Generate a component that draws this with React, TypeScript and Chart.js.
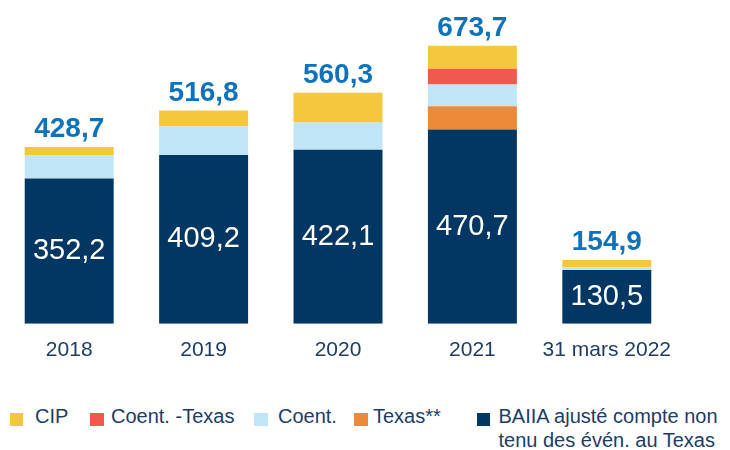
import React, { useEffect, useRef } from "react";
import { Chart, registerables } from "chart.js";

Chart.register(...registerables);

// ---- data ----
const categories = ["2018", "2019", "2020", "2021", "31 mars 2022"];
const baiia = [352.2, 409.2, 422.1, 470.7, 130.5];
const texas = [0, 0, 0, 56.6, 0];
const coent = [56.6, 69.0, 65.6, 52.7, 6.5];
const coentTexas = [0, 0, 0, 38.1, 0];
const cip = [19.9, 38.6, 72.6, 55.6, 17.9];

const baiiaLabelLines = ["BAIIA ajusté compte non", "tenu des évén. au Texas"];
const texasLabel = "Texas**";
const coentLabel = "Coent.";
const coentTexasLabel = "Coent. -Texas";
const cipLabel = "CIP";

// ---- styles ----
const FONT = "'Liberation Sans', Arial, Helvetica, sans-serif";
const NAVY = "#023763";
const ORANGE = "#EC8A3A";
const LIGHTBLUE = "#C0E5F7";
const RED = "#F05A4E";
const YELLOW = "#F4C73E";
const VALUE_BLUE = "#0F72BA";
const TEXT_NAVY = "#1d3c66";

const fmt = (v: number) => v.toFixed(1).replace(".", ",");

const totals = categories.map(
  (_, i) => baiia[i] + texas[i] + coent[i] + coentTexas[i] + cip[i]
);

const valueLabelsPlugin = {
  id: "valueLabels",
  afterDatasetsDraw(chart: any) {
    const ctx = chart.ctx as CanvasRenderingContext2D;
    ctx.save();
    // inner labels on base series
    const meta0 = chart.getDatasetMeta(0);
    meta0.data.forEach((bar: any, i: number) => {
      const p = bar.getProps(["x", "y", "base"], true);
      ctx.fillStyle = "#ffffff";
      ctx.font = `29px ${FONT}`;
      ctx.textAlign = "center";
      ctx.textBaseline = "middle";
      ctx.fillText(fmt(baiia[i]), p.x, (p.y + p.base) / 2);
    });
    // totals on top
    categories.forEach((_, i) => {
      let top = Infinity;
      let x = 0;
      chart.data.datasets.forEach((_ds: any, d: number) => {
        const el = chart.getDatasetMeta(d).data[i];
        if (!el) return;
        const p = el.getProps(["x", "y"], true);
        if (p.y < top) top = p.y;
        x = p.x;
      });
      ctx.fillStyle = VALUE_BLUE;
      ctx.font = `bold 28px ${FONT}`;
      ctx.textAlign = "center";
      ctx.textBaseline = "alphabetic";
      ctx.fillText(fmt(totals[i]), x, top - 10);
    });
    ctx.restore();
  },
};

const legendEntries = [
  { lines: [cipLabel], color: YELLOW, boxLeft: 9.5, textLeft: 35 },
  { lines: [coentTexasLabel], color: RED, boxLeft: 90, textLeft: 111 },
  { lines: [coentLabel], color: LIGHTBLUE, boxLeft: 254, textLeft: 278 },
  { lines: [texasLabel], color: ORANGE, boxLeft: 354, textLeft: 373 },
  { lines: baiiaLabelLines, color: NAVY, boxLeft: 476.5, textLeft: 498.5 },
];

export default function App() {
  const canvasRef = useRef<HTMLCanvasElement | null>(null);

  useEffect(() => {
    if (!canvasRef.current) return;
    const chart = new Chart(canvasRef.current, {
      type: "bar",
      data: {
        labels: categories,
        datasets: [
          { label: baiiaLabelLines.join(" "), data: baiia, backgroundColor: NAVY },
          { label: texasLabel, data: texas, backgroundColor: ORANGE },
          { label: coentLabel, data: coent, backgroundColor: LIGHTBLUE },
          { label: coentTexasLabel, data: coentTexas, backgroundColor: RED },
          { label: cipLabel, data: cip, backgroundColor: YELLOW },
        ],
      },
      options: {
        responsive: false,
        animation: false,
        layout: { padding: { top: 35, bottom: 13, left: 2, right: 56 } },
        datasets: {
          bar: { categoryPercentage: 1, barPercentage: 0.662, borderWidth: 0 },
        },
        plugins: {
          legend: { display: false },
          tooltip: { enabled: false },
        },
        scales: {
          x: {
            stacked: true,
            grid: { display: false, drawTicks: false },
            border: { display: false },
            ticks: {
              color: TEXT_NAVY,
              font: { family: FONT, size: 21 },
              padding: 14,
              maxRotation: 0,
              autoSkip: false,
            },
          },
          y: {
            stacked: true,
            display: false,
            min: 0,
            max: 700,
          },
        },
      },
      plugins: [valueLabelsPlugin],
    } as any);
    return () => chart.destroy();
  }, []);

  return (
    <div
      style={{
        position: "absolute",
        left: 0,
        top: 0,
        width: 730,
        height: 450,
        background: "#ffffff",
        fontFamily: FONT,
      }}
    >
      <canvas ref={canvasRef} width={730} height={390} style={{ display: "block", width: 730, height: 390 }} />
      {legendEntries.map((e, i) => (
        <React.Fragment key={i}>
          <div
            style={{
              position: "absolute",
              left: e.boxLeft,
              top: 412.5,
              width: 13.5,
              height: 13.5,
              background: e.color,
            }}
          />
          <div
            style={{
              position: "absolute",
              left: e.textLeft,
              top: 404.4,
              fontSize: 20,
              lineHeight: "24px",
              color: TEXT_NAVY,
              whiteSpace: "nowrap",
            }}
          >
            {e.lines.map((l, j) => (
              <div key={j}>{l}</div>
            ))}
          </div>
        </React.Fragment>
      ))}
    </div>
  );
}
